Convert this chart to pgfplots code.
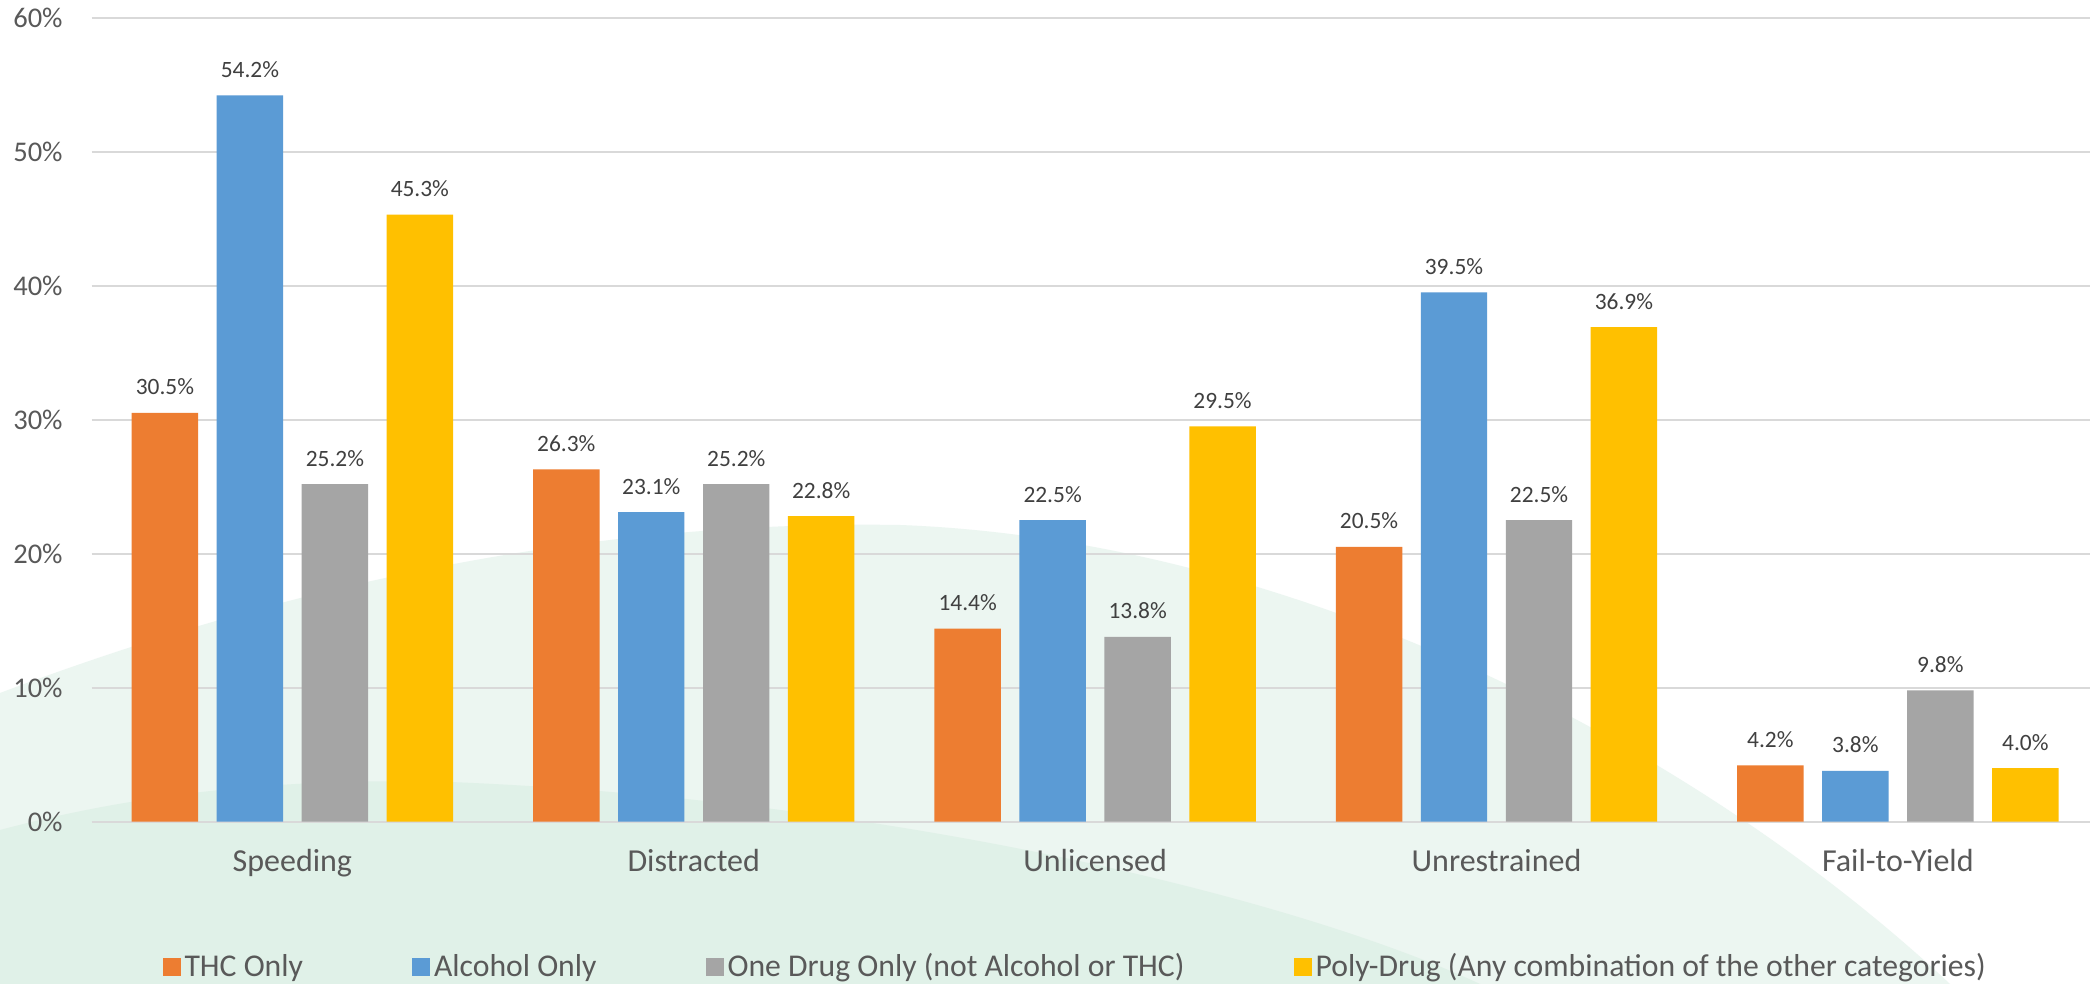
\documentclass[border=0pt]{standalone}
\usepackage{pgfplots}
\pgfplotsset{compat=1.18}
\usepackage{fontspec}
\setmainfont{Carlito}
\definecolor{cthc}{HTML}{ED7D31}
\definecolor{calc}{HTML}{5B9BD5}
\definecolor{cone}{HTML}{A5A5A5}
\definecolor{cpoly}{HTML}{FFC000}
\definecolor{txt}{HTML}{595959}
\definecolor{dlab}{HTML}{404040}
\definecolor{grid}{HTML}{D9D9D9}
\definecolor{bgA}{RGB}{236,246,241}
\definecolor{bgB}{RGB}{224,241,232}
\begin{document}
\begin{tikzpicture}
\useasboundingbox (0,0) rectangle (1045pt,492pt);
\begin{scope}[x=0.5pt,y=-0.5pt,yshift=492pt]
\fill[white] (0,0) rectangle (2090,984);
\fill[bgA] (0,693) .. controls (300,580) and (600,520) .. (900,525) .. controls (1300,540) and (1700,750) .. (1950,984) -- (0,984) -- cycle;
\fill[bgB] (0,830) .. controls (150,790) and (300,778) .. (450,782) .. controls (900,800) and (1300,900) .. (1480,984) -- (0,984) -- cycle;
\end{scope}
\begin{axis}[
  at={(45.85pt,81.15pt)}, anchor=south west,
  scale only axis, width=999pt, height=402pt,
  xmin=-0.5, xmax=4.478, ymin=0, ymax=60,
  ybar, bar width=0.1656,
  axis line style={draw=none},
  major tick length=0pt,
  xtick={0,1,2,3,4},
  xticklabels={Speeding,Distracted,Unlicensed,Unrestrained,Fail-to-Yield},
  ytick={0,10,20,30,40,50,60},
  yticklabel={\pgfmathprintnumber{\tick}\%},
  /pgf/number format/assume math mode=true,
  ymajorgrids, grid style={draw=grid, line width=1pt},
  xticklabel style={font=\fontsize{16}{19}\selectfont, text=txt, anchor=base, inner sep=0pt, yshift=-25pt},
  yticklabel style={font=\fontsize{14.25}{17}\selectfont, text=txt, anchor=east, inner sep=0pt, xshift=-14.35pt},
  nodes near coords={\pgfmathprintnumber[fixed,fixed zerofill,precision=1]{\pgfplotspointmeta}\%},
  every node near coord/.append style={font=\fontsize{11.7}{14}\selectfont, text=dlab, anchor=base, inner sep=0pt, yshift=9pt},
  legend style={at={(0.4927,-0.1803)}, anchor=center, draw=none, fill=none,
    font=\fontsize{15.85}{19}\selectfont, text=txt, legend columns=4,
    /tikz/every even column/.append style={column sep=52.5pt},
    legend cell align=left, inner sep=0pt},
  legend image code/.code={\fill[#1] (0pt,-4.5pt) rectangle (9pt,4.5pt);},
]
\addplot[bar shift=-0.3176, fill=cthc, draw=none] coordinates {(0,30.5) (1,26.3) (2,14.4) (3,20.5) (4,4.2)};
\addlegendentry{THC Only}
\addplot[bar shift=-0.1059, fill=calc, draw=none] coordinates {(0,54.2) (1,23.1) (2,22.5) (3,39.5) (4,3.8)};
\addlegendentry{Alcohol Only}
\addplot[bar shift=0.1059, fill=cone, draw=none] coordinates {(0,25.2) (1,25.2) (2,13.8) (3,22.5) (4,9.8)};
\addlegendentry{One Drug Only (not Alcohol or THC)}
\addplot[bar shift=0.3176, fill=cpoly, draw=none] coordinates {(0,45.3) (1,22.8) (2,29.5) (3,36.9) (4,4.0)};
\addlegendentry{Poly-Drug (Any combination of the other categories)}
\end{axis}
\end{tikzpicture}
\end{document}
